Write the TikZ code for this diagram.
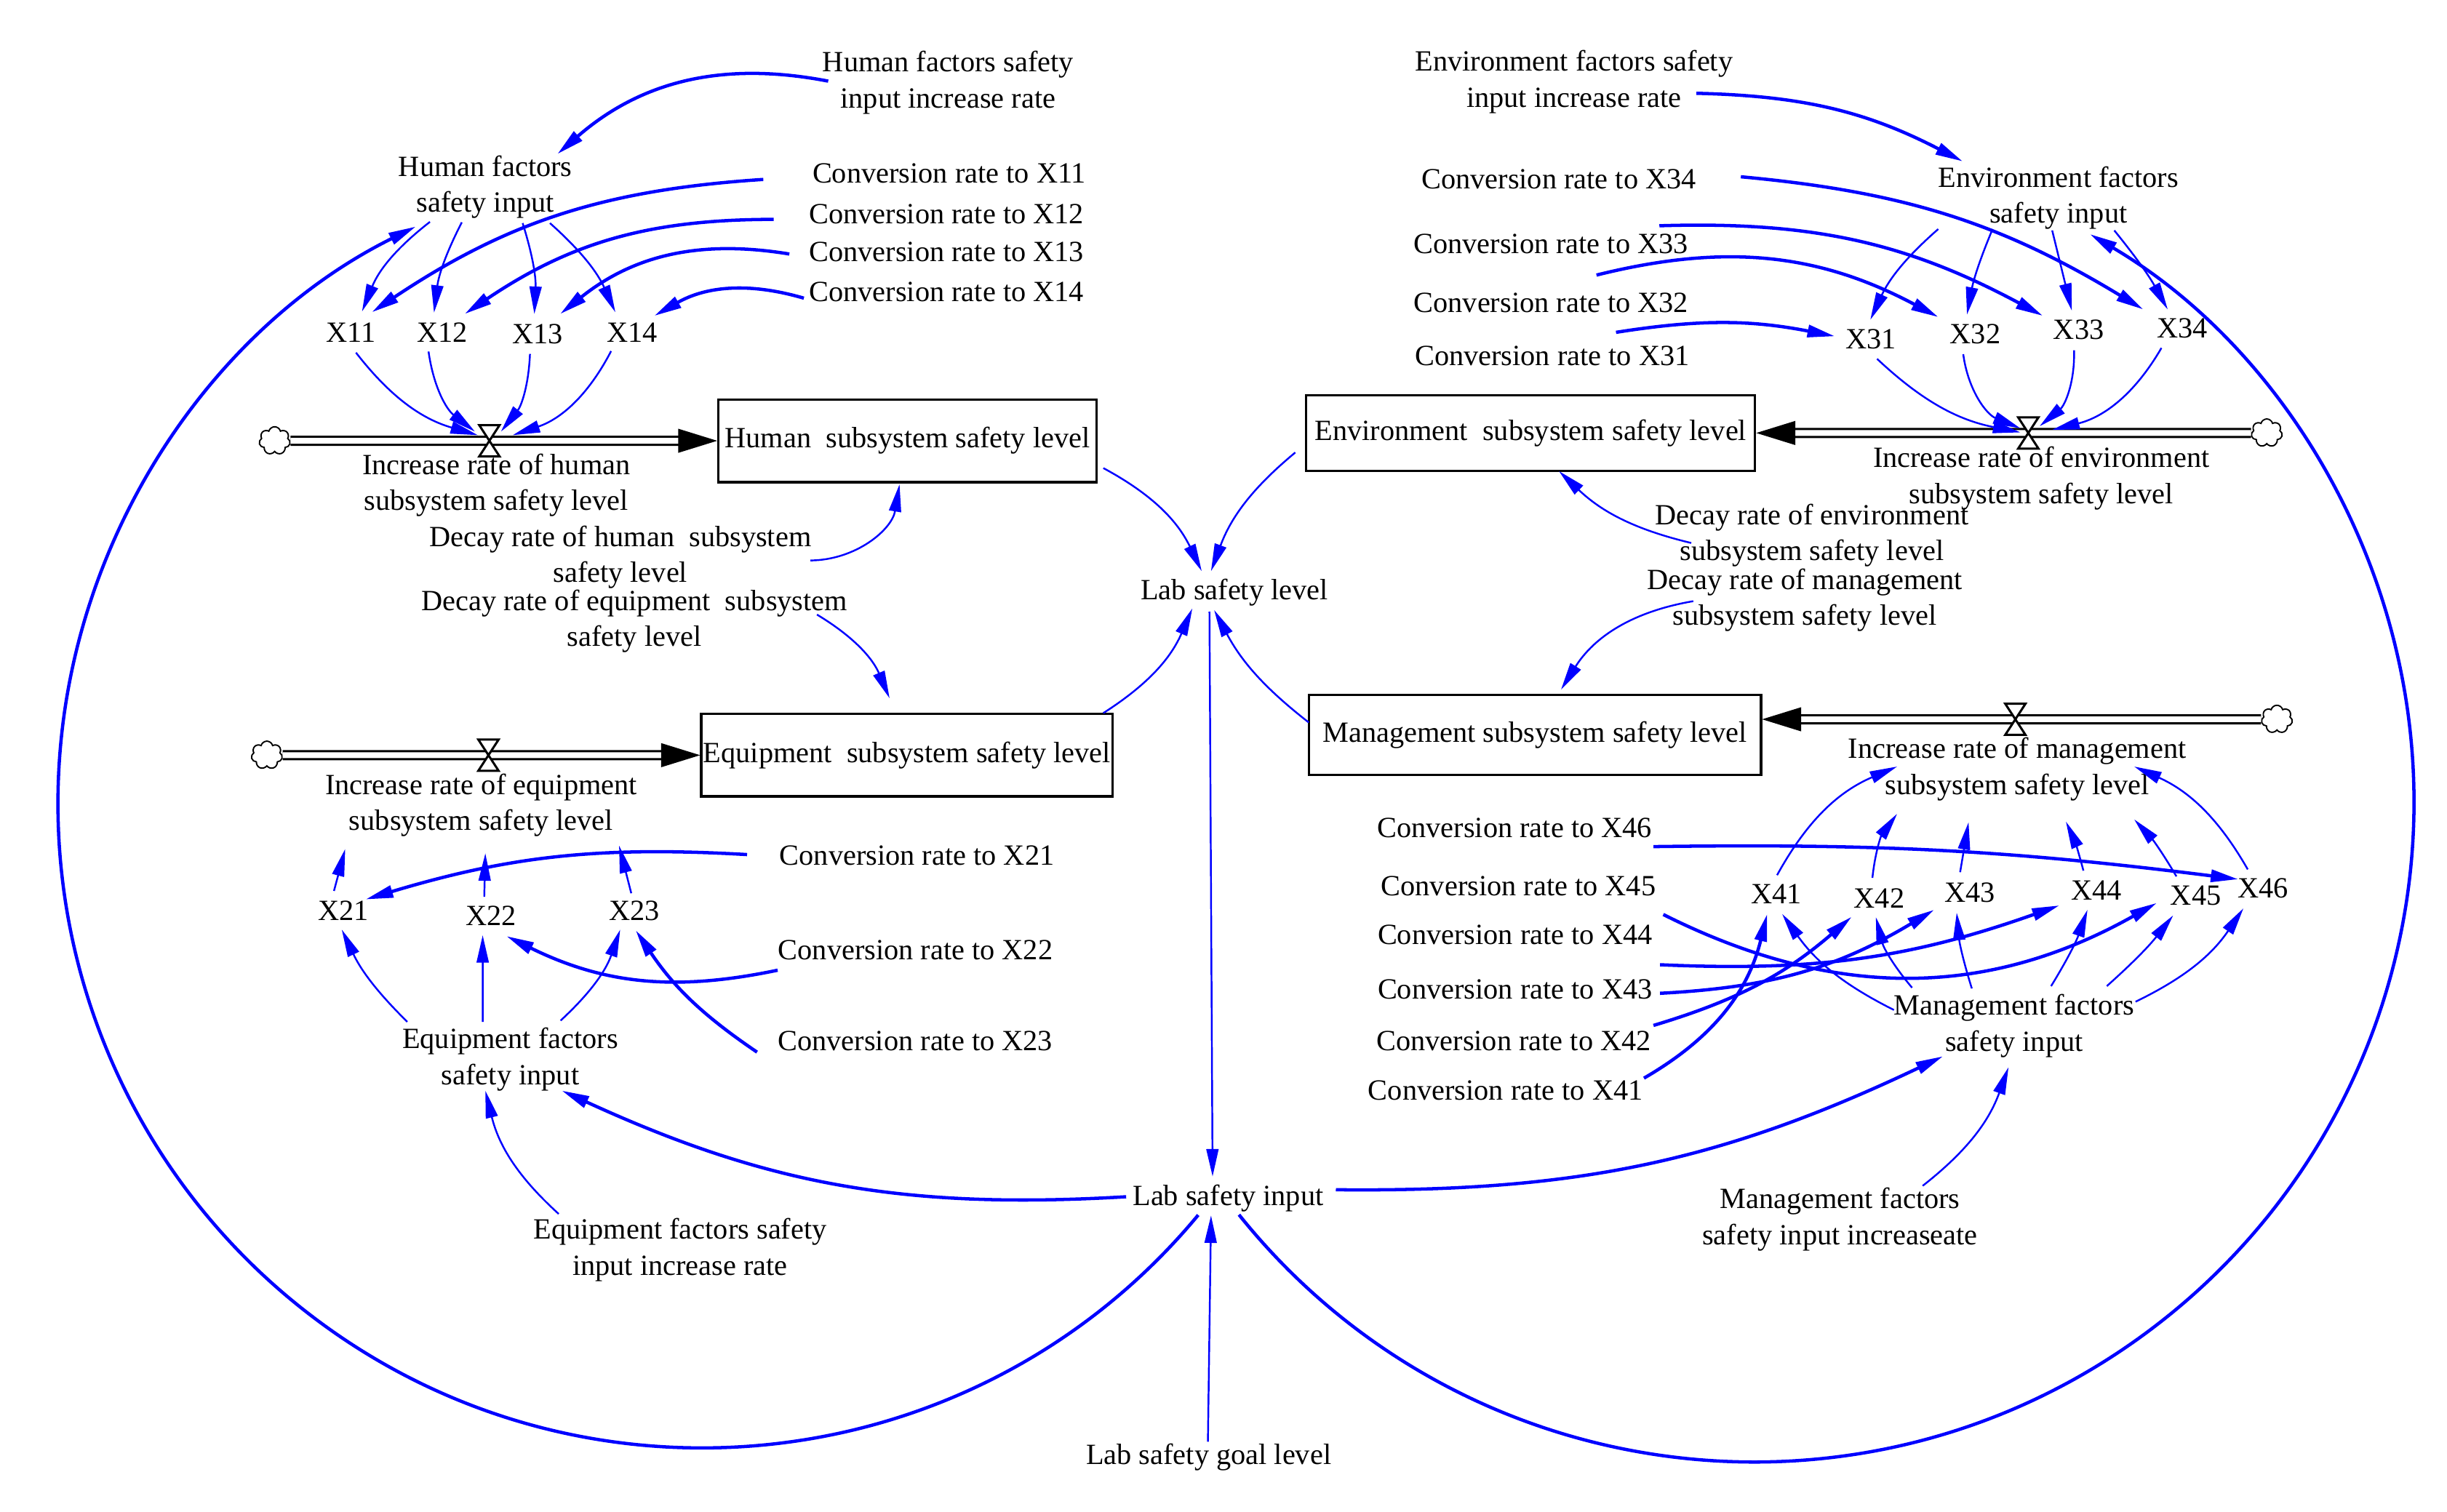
\documentclass[tikz,border=0pt]{standalone}
\usepackage{fontspec}
\setmainfont{Liberation Serif}
\usetikzlibrary{arrows.meta,shapes.symbols}
\begin{document}
\begin{tikzpicture}[x=0.02cm,y=0.02cm,
  lbl/.style={font=\fontsize{10.7}{13.1}\selectfont, align=center, inner sep=0pt},
  stock/.style={draw, line width=0.9pt, inner sep=0pt, font=\fontsize{10.7}{13.1}\selectfont},
  conn/.style={blue, line width=0.65pt, -{Triangle[length=10pt,width=4.4pt]}},
  thk/.style={line width=1.2pt},
  pipe/.style={draw, line width=0.8pt, double=white, double distance=2.1pt},
  cloudst/.style={cloud, cloud puffs=7, draw, fill=white, line width=0.5pt, minimum width=0.4cm, minimum height=0.36cm, inner sep=0pt},
  valve/.pic={\filldraw[fill=white, line width=0.8pt] (-6.5,10) -- (6.5,10) -- (-6.5,-10) -- (6.5,-10) -- cycle;}
]
\useasboundingbox (0,0) rectangle (1568,-969);

% ---------- Human ----------
\node[lbl] (hfir) at (607.5,-53) {Human factors safety\\input increase rate};
\node[lbl] (hfsi) at (311,-120) {Human factors\\safety input};
\node[lbl] (c11) at (608.3,-111) {Conversion rate to X11};
\node[lbl] (c12) at (606.5,-137) {Conversion rate to X12};
\node[lbl] (c13) at (606.5,-161.5) {Conversion rate to X13};
\node[lbl] (c14) at (606.5,-187) {Conversion rate to X14};
\node[lbl] (x11) at (225,-213) {X11};
\node[lbl] (x12) at (283.5,-213) {X12};
\node[lbl] (x13) at (344.6,-214) {X13};
\node[lbl] (x14) at (405,-213) {X14};
\node[stock, minimum width=242.3*0.02cm, minimum height=53*0.02cm] (hbox) at (581.5,-282.5) {Human\ \ subsystem safety level};
\node[cloudst] (hcloud) at (176,-282.5) {};
\coordinate (hvalve) at (313.6,-282.5);
\node[lbl] (hinc) at (318,-311) {Increase rate of human\\subsystem safety level};
\node[lbl] (hdec) at (397.5,-357) {Decay rate of human\ \ subsystem\\safety level};
\node[lbl] (edec) at (406.5,-398) {Decay rate of equipment\ \ subsystem\\safety level};

% ---------- Equipment ----------
\node[stock, minimum width=263.6*0.02cm, minimum height=52.8*0.02cm] (ebox) at (581.2,-484) {Equipment\ \ subsystem safety level};
\node[cloudst] (ecloud) at (171,-484) {};
\coordinate (evalve) at (313,-484);
\node[lbl] (ein) at (308.3,-516) {Increase rate of equipment\\subsystem safety level};
\node[lbl] (x21) at (220,-583.6) {X21};
\node[lbl] (x22) at (314.6,-586.8) {X22};
\node[lbl] (x23) at (406.5,-583.6) {X23};
\node[lbl] (c21) at (587.6,-548.5) {Conversion rate to X21};
\node[lbl] (c22) at (586.6,-609) {Conversion rate to X22};
\node[lbl] (c23) at (586.5,-667.3) {Conversion rate to X23};
\node[lbl] (efsi) at (327,-679) {Equipment factors\\safety input};
\node[lbl] (efir) at (435.8,-801) {Equipment factors safety\\input increase rate};

% ---------- Lab ----------
\node[lbl] (lsl) at (791,-379.5) {Lab safety level};
\node[lbl] (lsi) at (787,-767.8) {Lab safety input};
\node[lbl] (lsg) at (774.5,-933.8) {Lab safety goal level};

% ---------- Environment ----------
\node[lbl] (enir) at (1008.6,-52.5) {Environment factors safety\\input increase rate};
\node[lbl] (ensi) at (1319,-127) {Environment factors\\safety input};
\node[lbl] (c34) at (998.9,-114.8) {Conversion rate to X34};
\node[lbl] (c33) at (993.8,-156.3) {Conversion rate to X33};
\node[lbl] (c32) at (993.9,-194) {Conversion rate to X32};
\node[lbl] (c31) at (994.6,-228.3) {Conversion rate to X31};
\node[lbl] (x31) at (1199,-217.6) {X31};
\node[lbl] (x32) at (1265.7,-213.9) {X32};
\node[lbl] (x33) at (1332,-211.4) {X33};
\node[lbl] (x34) at (1398.5,-210.6) {X34};
\node[stock, minimum width=287.6*0.02cm, minimum height=48.4*0.02cm] (envbox) at (980.8,-277.5) {Environment\ \ subsystem safety level};
\node[cloudst] (envcloud) at (1452.5,-277.5) {};
\coordinate (envvalve) at (1299.7,-277.5);
\node[lbl] (envinc) at (1308,-306.6) {Increase rate of environment\\subsystem safety level};
\node[lbl] (envdec) at (1161,-343) {Decay rate of environment\\subsystem safety level};
\node[lbl] (mdec) at (1156.5,-384.5) {Decay rate of management\\subsystem safety level};

% ---------- Management ----------
\node[stock, minimum width=289.7*0.02cm, minimum height=51.3*0.02cm] (mbox) at (983.5,-471) {Management subsystem safety level};
\node[cloudst] (mcloud) at (1459,-461) {};
\coordinate (mvalve) at (1291.4,-461);
\node[lbl] (minc) at (1292.6,-493) {Increase rate of management\\subsystem safety level};
\node[lbl] (c46) at (970.5,-530.8) {Conversion rate to X46};
\node[lbl] (c45) at (973,-567.7) {Conversion rate to X45};
\node[lbl] (c44) at (970.8,-599.2) {Conversion rate to X44};
\node[lbl] (c43) at (970.8,-634) {Conversion rate to X43};
\node[lbl] (c42) at (970,-667) {Conversion rate to X42};
\node[lbl] (c41) at (964.7,-698.7) {Conversion rate to X41};
\node[lbl] (x41) at (1138.3,-572.9) {X41};
\node[lbl] (x42) at (1204.2,-575.5) {X42};
\node[lbl] (x43) at (1262.4,-572) {X43};
\node[lbl] (x44) at (1343.5,-570.7) {X44};
\node[lbl] (x45) at (1407,-574) {X45};
\node[lbl] (x46) at (1450,-569.5) {X46};
\node[lbl] (mfsi) at (1290.6,-657.5) {Management factors\\safety input};
\node[lbl] (mfir) at (1179,-781.5) {Management factors\\safety input increaseate};

% ---------- Pipes ----------
\draw[pipe] (hcloud.east) -- ([shift={(-24,0)}]hbox.west);
\fill (hbox.west) -- ++(-25,7.75) -- ++(0,-15.5) -- cycle;
\pic at (hvalve) {valve};
\draw[pipe] (ecloud.east) -- ([shift={(-24,0)}]ebox.west);
\fill (ebox.west) -- ++(-25,7.75) -- ++(0,-15.5) -- cycle;
\pic at (evalve) {valve};
\draw[pipe] (envcloud.west) -- ([shift={(24,0)}]envbox.east);
\fill (envbox.east) -- ++(25,7.75) -- ++(0,-15.5) -- cycle;
\pic at (envvalve) {valve};
\draw[pipe] (mcloud.west) -- ([shift={(24,10)}]mbox.east);
\fill ([shift={(0,10)}]mbox.east) -- ++(25,7.75) -- ++(0,-15.5) -- cycle;
\pic at (mvalve) {valve};

% ---------- Human connectors ----------
\draw[conn,thk] ([shift={(-76.8,1)}]hfir.center) to[bend right=26] ([shift={(46.2,21.3)}]hfsi.center);
\draw[conn] ([shift={(-35.5,-22.2)}]hfsi.center) to[bend right=15] ([shift={(7,13.4)}]x11.center);
\draw[conn] ([shift={(-15.1,-22.5)}]hfsi.center) to[bend right=10] ([shift={(-5.4,12.6)}]x12.center);
\draw[conn] ([shift={(23.9,-23)}]hfsi.center) to[bend left=10] ([shift={(-2.2,12.8)}]x13.center);
\draw[conn] ([shift={(41.4,-23)}]hfsi.center) to[bend left=12] ([shift={(-10.7,12.9)}]x14.center);
\draw[conn,thk] ([shift={(-119.2,-4)}]c11.center) to[bend right=15] ([shift={(13.3,12.9)}]x11.center);
\draw[conn,thk] ([shift={(-110.7,-3.6)}]c12.center) to[bend right=17] ([shift={(14.3,11.8)}]x12.center);
\draw[conn,thk] ([shift={(-100.7,-1.3)}]c13.center) to[bend right=24] ([shift={(14.4,12.8)}]x13.center);
\draw[conn,thk] ([shift={(-91.4,-4.1)}]c14.center) to[bend right=23] ([shift={(14.3,10.6)}]x14.center);
\draw[conn] ([shift={(3.1,-13)}]x11.center) to[bend right=18] ([shift={(-7.4,3.6)}]hvalve);
\draw[conn] ([shift={(-8.9,-12.3)}]x12.center) to[bend right=22] ([shift={(-9.3,5.9)}]hvalve);
\draw[conn] ([shift={(-5,-12.8)}]x13.center) to[bend left=18] ([shift={(7.4,5.9)}]hvalve);
\draw[conn] ([shift={(-13.4,-12)}]x14.center) to[bend left=22] ([shift={(14.9,3.6)}]hvalve);

% ---------- Stocks to lab safety level ----------
\draw[conn] ([shift={(125.5,-17.5)}]hbox.center) to[bend left=18] ([shift={(-21,13.5)}]lsl.center);
\draw[conn] ([shift={(-150.8,-12.5)}]envbox.center) to[bend right=15] ([shift={(-15,13.5)}]lsl.center);
\draw[conn] ([shift={(125.8,27)}]ebox.center) to[bend right=17] ([shift={(-27,-10.5)}]lsl.center);
\draw[conn] ([shift={(-144.9,8)}]mbox.center) to[bend left=12] ([shift={(-13,-11.5)}]lsl.center);

% ---------- Decay ----------
\draw[conn] ([shift={(121.8,-2.2)}]hdec.center) to[bend right=40] ([shift={(-5.1,-27.9)}]hbox.center);
\draw[conn] ([shift={(117,4.1)}]edec.center) to[bend left=18] ([shift={(-11.2,36.5)}]ebox.center);
\draw[conn] ([shift={(-77.3,-5)}]envdec.center) to[bend left=15] ([shift={(18.2,-24.5)}]envbox.center);
\draw[conn] ([shift={(-71.5,-0.8)}]mdec.center) to[bend right=24] ([shift={(16.8,29.1)}]mbox.center);

% ---------- Lab ----------
\draw[conn] ([shift={(-16,-12.5)}]lsl.center) -- ([shift={(-10,13.8)}]lsi.center);
\draw[conn] ([shift={(-0.5,9.8)}]lsg.center) -- ([shift={(-11,-11.2)}]lsi.center);
\draw[conn,thk] ([shift={(-65.4,0.8)}]lsi.center) to[bend left=14] ([shift={(33,-20)}]efsi.center);
\draw[conn,thk] ([shift={(69,5.3)}]lsi.center) to[bend right=13] ([shift={(-45.6,-19.5)}]mfsi.center);
\draw[conn] ([shift={(-77.8,23)}]efir.center) to[bend left=17] ([shift={(-16,-20)}]efsi.center);
\draw[conn] ([shift={(53,21.5)}]mfir.center) to[bend right=16] ([shift={(-3.6,-26.5)}]mfsi.center);
\draw[conn,thk] ([shift={(-19.2,-10.9)}]lsi.center) arc[start angle=-39.68, end angle=-243.6, radius=8.26cm];
\draw[conn,thk] ([shift={(6.9,-10.7)}]lsi.center) arc[start angle=218.7, end angle=419.4, radius=8.46cm];

% ---------- Environment connectors ----------
\draw[conn,thk] ([shift={(78.4,-7.3)}]enir.center) to[bend left=13] ([shift={(-61.4,23.6)}]ensi.center);
\draw[conn] ([shift={(-77,-19.8)}]ensi.center) to[bend right=12] ([shift={(-0.5,12.7)}]x31.center);
\draw[conn] ([shift={(-42.2,-19.8)}]ensi.center) to[bend right=6] ([shift={(-5.3,12.3)}]x32.center);
\draw[conn] ([shift={(-4,-20.7)}]ensi.center) -- ([shift={(-4.4,12.2)}]x33.center);
\draw[conn] ([shift={(35.8,-20.7)}]ensi.center) to[bend left=5] ([shift={(-9.5,12.3)}]x34.center);
\draw[conn,thk] ([shift={(116.6,1.5)}]c34.center) to[bend left=13] ([shift={(-25.2,12.3)}]x34.center);
\draw[conn,thk] ([shift={(69.5,11.6)}]c33.center) to[bend left=15] ([shift={(-23,9)}]x33.center);
\draw[conn,thk] ([shift={(29.1,17.7)}]c32.center) to[bend left=21] ([shift={(-23.7,10.7)}]x32.center);
\draw[conn,thk] ([shift={(40.9,15.3)}]c31.center) to[bend left=10] ([shift={(-23.3,2.1)}]x31.center);
\draw[conn] ([shift={(3.8,-12.4)}]x31.center) to[bend right=16] ([shift={(-5.1,0.4)}]envvalve);
\draw[conn] ([shift={(-7.7,-13.1)}]x32.center) to[bend right=30] ([shift={(-5.1,3)}]envvalve);
\draw[conn] ([shift={(-3,-13.1)}]x33.center) to[bend left=26] ([shift={(7.3,4.4)}]envvalve);
\draw[conn] ([shift={(-13.5,-12.4)}]x34.center) to[bend left=23] ([shift={(15.3,2)}]envvalve);

% ---------- Management connectors ----------
\draw[conn] ([shift={(0.4,12)}]x41.center) to[bend left=19] ([shift={(-77,1.7)}]minc.center);
\draw[conn] ([shift={(-4.4,12.9)}]x42.center) to[bend left=15] ([shift={(-77,-28.6)}]minc.center);
\draw[conn] ([shift={(-6.4,13)}]x43.center) -- ([shift={(-31.2,-34)}]minc.center);
\draw[conn] ([shift={(-8.5,12.7)}]x44.center) to[bend right=5] ([shift={(31.2,-33.6)}]minc.center);
\draw[conn] ([shift={(-12.4,12.3)}]x45.center) to[bend right=6] ([shift={(75,-32.2)}]minc.center);
\draw[conn] ([shift={(-9.7,12.3)}]x46.center) to[bend right=18] ([shift={(75,1.7)}]minc.center);
\draw[conn,thk] ([shift={(89,-11.8)}]c46.center) to[bend left=4] ([shift={(-15.8,6)}]x46.center);
\draw[conn,thk] ([shift={(92.8,-18.4)}]c45.center) to[bend right=28] ([shift={(-25,-4.7)}]x45.center);
\draw[conn,thk] ([shift={(92.9,-19.1)}]c44.center) to[bend right=11] ([shift={(-23.9,-9.6)}]x44.center);
\draw[conn,thk] ([shift={(92.9,-2.6)}]c43.center) to[bend right=14] ([shift={(-23,-11.1)}]x43.center);
\draw[conn,thk] ([shift={(89.5,9.8)}]c42.center) to[bend right=12] ([shift={(-17.7,-12.1)}]x42.center);
\draw[conn,thk] ([shift={(88.7,7.7)}]c41.center) to[bend right=23] ([shift={(-5.9,-12.9)}]x41.center);
\draw[conn] ([shift={(-77,10.2)}]mfsi.center) to[bend left=14] ([shift={(3.7,-12.9)}]x41.center);
\draw[conn] ([shift={(-65.4,24.5)}]mfsi.center) to[bend left=13] ([shift={(-2.2,-12.3)}]x42.center);
\draw[conn] ([shift={(-27.1,24)}]mfsi.center) to[bend left=6] ([shift={(-8.6,-13)}]x43.center);
\draw[conn] ([shift={(23.7,25.5)}]mfsi.center) to[bend right=6] ([shift={(-5.9,-12.4)}]x44.center);
\draw[conn] ([shift={(59.4,25.5)}]mfsi.center) to[bend right=5] ([shift={(-14.5,-12.7)}]x45.center);
\draw[conn] ([shift={(77.8,15.5)}]mfsi.center) to[bend right=15] ([shift={(-12.5,-12.7)}]x46.center);

% ---------- Equipment connectors ----------
\draw[conn] ([shift={(-6,12.6)}]x21.center) -- ([shift={(-87.1,-28.1)}]ein.center);
\draw[conn] ([shift={(-4.3,12)}]x22.center) -- ([shift={(2.7,-30.9)}]ein.center);
\draw[conn] ([shift={(-2,11.1)}]x23.center) -- ([shift={(88.4,-26)}]ein.center);
\draw[conn,thk] ([shift={(-108.9,0.8)}]c21.center) to[bend right=10] ([shift={(14.4,7.2)}]x21.center);
\draw[conn,thk] ([shift={(-88.3,-12.8)}]c22.center) to[bend left=19] ([shift={(10,-13.2)}]x22.center);
\draw[conn,thk] ([shift={(-101.4,-7)}]c23.center) to[bend left=11] ([shift={(0.9,-12.7)}]x23.center);
\draw[conn] ([shift={(-66,24.1)}]efsi.center) to[bend left=10] ([shift={(-1,-12.2)}]x21.center);
\draw[conn] ([shift={(-17.7,24.1)}]efsi.center) -- ([shift={(-5.3,-12.6)}]x22.center);
\draw[conn] ([shift={(32.2,24.9)}]efsi.center) to[bend right=14] ([shift={(-9.1,-12.2)}]x23.center);
\end{tikzpicture}
\end{document}
